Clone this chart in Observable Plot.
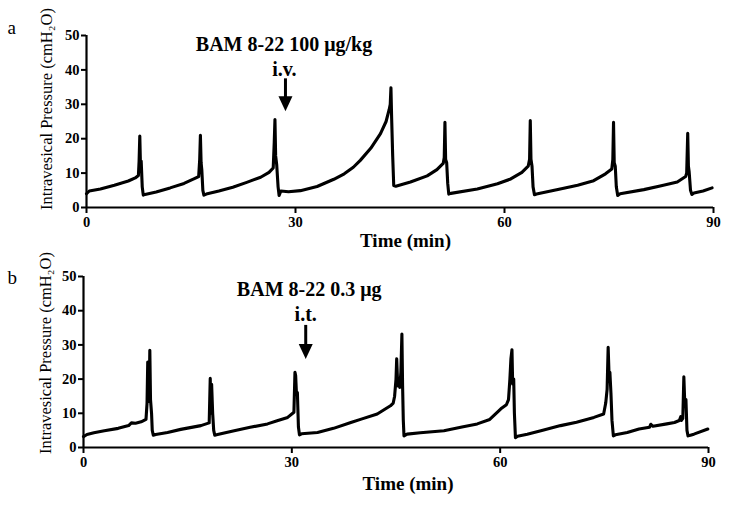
<!DOCTYPE html>
<html>
<head>
<meta charset="utf-8">
<script src="https://cdn.jsdelivr.net/npm/d3@7"></script>
<script src="https://cdn.jsdelivr.net/npm/@observablehq/plot@0.6"></script>
<style>
  html, body { margin: 0; padding: 0; background: #fff; }
  #chart { width: 729px; height: 505px; position: relative; }
  #chart svg { display: block; }
</style>
</head>
<body>
<div id="chart"></div>
<script>
// ---- Data ----
const xTicks = [0, 30, 60, 90];
const yTicks = [0, 10, 20, 30, 40, 50];
const yLabel = "Intravesical Pressure (cmH₂O)";
const xLabel = "Time (min)";

// Panel a: BAM 8-22 100 μg/kg i.v.
const aTime = [0,0.4,2,4,6,7.0,7.45,7.55,7.65,7.75,7.85,8.0,8.15,8.4,10,12,14,15.4,16.1,16.25,16.35,16.45,16.55,16.7,16.85,17.2,19,21,23,25,26.2,26.8,26.95,27.05,27.15,27.3,27.5,27.65,27.9,29,30.7,33.1,35.5,37,38.3,39.3,40.8,42.2,43.0,43.45,43.6,43.7,43.8,43.95,44.1,44.4,46.5,48.9,50.3,51.2,51.35,51.45,51.55,51.7,51.85,52.0,52.3,56.1,59,60.9,62.5,63.4,63.6,63.7,63.8,63.95,64.1,64.3,64.6,68,70.5,72.8,74.5,75.4,75.55,75.65,75.75,75.9,76.05,76.25,76.6,80,82.5,84.8,86.0,86.15,86.3,86.4,86.5,86.7,86.9,87.2,88.5,89.8];
const aPressure = [4.0,4.8,5.4,6.5,7.7,8.6,9.3,13.5,20.8,12,13.5,6,3.6,3.8,4.5,5.7,7.0,8.3,9.0,14,21,13,11,5,3.6,3.9,4.8,5.9,7.3,8.8,10.2,11.5,19,25.6,15,12.5,6,3.5,4.8,4.6,4.9,6.1,8.2,9.8,11.7,13.7,17.2,21.5,25,28.5,30,34.8,26,15,6.4,6.2,7.4,9.2,11.0,12.8,14.5,24.8,14,13,7,3.9,4.1,5.4,6.9,8.3,10.2,12.0,14,25.3,14,12,6,3.7,3.9,5.4,6.5,7.8,9.8,11.2,14,24.8,13,12,6,3.5,4.0,5.2,6.3,7.4,9.0,10,21.6,12,10.5,5,3.8,4.2,4.8,5.7];

// Panel b: BAM 8-22 0.3 μg i.t.
const bTime = [0,0.5,1.5,3,5,6.5,6.9,7.5,8.3,9.0,9.15,9.25,9.35,9.45,9.55,9.65,9.8,9.9,10.05,10.4,12.1,14,16.9,18.1,18.25,18.35,18.45,18.6,18.75,18.9,19.3,21.7,24,26.5,28,29.4,30.3,30.45,30.55,30.65,30.8,30.95,31.1,31.4,33.7,36,38.5,40,42.3,44.2,44.6,44.8,45.0,45.1,45.25,45.4,45.55,45.7,45.85,45.95,46.05,46.15,46.6,48.5,51.9,54.5,56.7,58.5,60.1,60.9,61.2,61.4,61.55,61.7,61.8,61.95,62.05,62.2,62.5,63.9,66,68.7,71,73.5,74.9,75.2,75.4,75.55,75.7,75.8,75.95,76.1,76.3,76.6,78.3,80,81.5,81.7,82,84,85.1,85.8,86.0,86.1,86.3,86.45,86.6,86.75,86.9,87.05,87.4,87.9,89.9];
const bPressure = [3.2,3.8,4.3,4.9,5.6,6.4,7.2,7.1,7.5,8.2,13,25,14,13.5,28.4,14,10,5,3.6,3.8,4.4,5.3,6.4,7.2,20.2,10,18.5,10,5,3.6,3.8,4.9,5.9,6.9,7.9,8.8,10.3,22,21,16.5,16,6,3.7,4.0,4.4,5.6,7.3,8.3,9.8,12.2,13,15,20,25.9,18,19,17.6,22,33.2,18,8,3.4,3.9,4.3,4.9,6.0,6.9,8.2,11.3,12.5,14,20,26,28.6,18.6,20,10,2.9,3.3,3.9,5.0,6.4,7.4,8.8,9.8,13,17,29.3,20,22,16,8,3.4,3.7,4.4,5.4,5.9,6.8,6.2,6.9,7.3,7.9,9.0,7.9,8.5,20.7,12,14,5,3.4,3.6,3.9,5.4];

// Annotations
const panelLetters = ["a", "b"];
const aNotes = [
  {label: "BAM 8-22 100 μg/kg", t: 28.35, p: 47.3},
  {label: "i.v.", t: 28.4, p: 40.2}
];
const bNotes = [
  {label: "BAM 8-22 0.3 μg", t: 32.5, p: 46.2},
  {label: "i.t.", t: 32.0, p: 39.0}
];
const aArrow = {t: 28.56, top: 37.4, base: 31.5, mid: 30.13};
const bArrow = {t: 32.0, top: 35.7, base: 29.5, mid: 28.1};

// ---- Drawing ----
const headDown = {
  draw(context) {
    context.moveTo(-7, -7.5);
    context.lineTo(7, -7.5);
    context.lineTo(0, 7.5);
    context.closePath();
  }
};

function panel({time, pressure, notes, arrow, letter, height, margins, labelOffsets}) {
  const data = time.map((t, i) => ({t, p: pressure[i]}));
  return Plot.plot({
    width: 729,
    height,
    marginTop: margins[0],
    marginRight: margins[1],
    marginBottom: margins[2],
    marginLeft: margins[3],
    x: {domain: [0, 90]},
    y: {domain: [0, 50]},
    style: {fontFamily: "'Liberation Serif', 'Times New Roman', serif", color: "#000", background: "transparent", overflow: "visible"},
    marks: [
      Plot.axisY({ticks: yTicks, tickSize: 5, tickPadding: 2, strokeWidth: 2, fontSize: 14.5, fontWeight: "bold", label: null}),
      Plot.axisX({ticks: xTicks, tickSize: 6, tickPadding: 3, strokeWidth: 2, fontSize: 14.5, fontWeight: "bold", label: null}),
      Plot.ruleX([0], {strokeWidth: 2.2}),
      Plot.ruleY([0], {strokeWidth: 2.2}),
      Plot.line(data, {x: "t", y: "p", stroke: "#000", strokeWidth: 3.1, strokeLinejoin: "round", strokeLinecap: "round"}),
      Plot.ruleX([arrow], {x: "t", y1: "base", y2: "top", strokeWidth: 3}),
      Plot.dot([arrow], {x: "t", y: "mid", symbol: headDown, fill: "#000", stroke: null}),
      Plot.text(notes, {x: "t", y: "p", text: "label", fontSize: 20, fontWeight: "bold", lineAnchor: "middle"}),
      Plot.text([yLabel], {frameAnchor: "left", textAnchor: "middle", rotate: -90, dx: labelOffsets.ydx, dy: labelOffsets.ydy, fontSize: 16.5, lineAnchor: "middle"}),
      Plot.text([xLabel], {frameAnchor: "bottom", textAnchor: "middle", dx: labelOffsets.xdx, dy: labelOffsets.xdy, fontSize: 19, fontWeight: "bold", lineAnchor: "middle"}),
      Plot.text([letter], {frameAnchor: "top-left", textAnchor: "start", lineAnchor: "bottom", dx: labelOffsets.ldx, dy: labelOffsets.ldy, fontSize: 19})
    ]
  });
}

const chart = document.getElementById("chart");
chart.append(panel({
  time: aTime, pressure: aPressure, notes: aNotes, arrow: aArrow, letter: panelLetters[0],
  height: 250, margins: [35, 16, 43, 86],
  labelOffsets: {ydx: -40, ydy: -12.5, xdx: 5.5, xdy: 33.6, ldx: -79, ldy: -2}
}));
chart.append(panel({
  time: bTime, pressure: bPressure, notes: bNotes, arrow: bArrow, letter: panelLetters[1],
  height: 255, margins: [26, 21, 58, 83],
  labelOffsets: {ydx: -37.5, ydy: -9, xdx: 12, xdy: 36, ldx: -76, ldy: 7}
}));
</script>
</body>
</html>
